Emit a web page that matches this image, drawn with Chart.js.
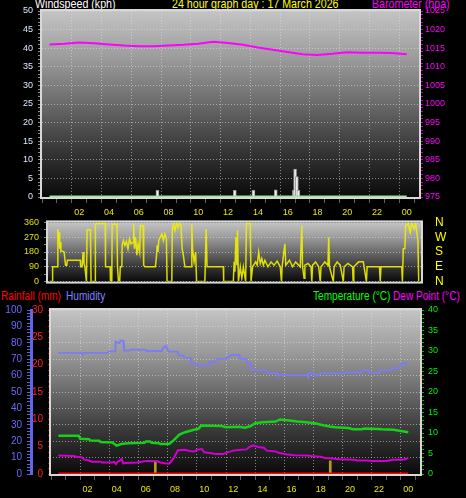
<!DOCTYPE html>
<html>
<head>
<meta charset="utf-8">
<script src="https://cdn.jsdelivr.net/npm/chart.js@4.4.1/dist/chart.umd.min.js"></script>
<style>
  body { margin: 0; background: #000; width: 466px; height: 498px; overflow: hidden; position: relative;
         font-family: 'Liberation Sans', Arial, sans-serif; }
  canvas { position: absolute; left: 0; }
  .t { position: absolute; white-space: nowrap; transform: scaleX(0.82); transform-origin: left top; }
  .head { font-size: 13px; line-height: 13px; top: -3px; }
  .leg { font-size: 12px; line-height: 12px; top: 290px; transform: scaleX(0.84); }
</style>
</head>
<body>
<div class="t head" style="left:35px;color:#fff">Windspeed (kph)</div>
<div class="t head" style="left:172px;color:#ffff00">24 hour graph day : 17 March 2026</div>
<div class="t head" style="left:372px;color:#ff00ff">Barometer (hpa)</div>
<div class="t leg" style="left:1px;color:#ff0000">Rainfall (mm)</div>
<div class="t leg" style="left:66px;color:#8080ff">Humidity</div>
<div class="t leg" style="left:313px;color:#00ff00">Temperature (°C)</div>
<div class="t leg" style="left:393px;color:#ff00ff">Dew Point (°C)</div>

<canvas id="wind-chart" style="top:0" width="466" height="222"></canvas>
<canvas id="dir-chart" style="top:212px" width="466" height="80"></canvas>
<canvas id="temp-chart" style="top:299px" width="466" height="199"></canvas>

<script>
// --- hour axis ---
const hourTicks = [2, 4, 6, 8, 10, 12, 14, 16, 18, 20, 22, 24];
const hourLabels = ['02', '04', '06', '08', '10', '12', '14', '16', '18', '20', '22', '00'];

// --- top panel: wind + barometer ---
const windTicks = [0, 5, 10, 15, 20, 25, 30, 35, 40, 45, 50];
const pressTicks = [975, 980, 985, 990, 995, 1000, 1005, 1010, 1015, 1020, 1025];

const pressHours = [0, 1, 2, 3, 4, 5, 6, 7, 8, 9, 10, 11, 12, 13, 14, 15, 16, 17, 18, 19, 20, 21, 22, 23, 24];
const pressValues = [1016.0, 1016.2, 1016.5, 1016.3, 1016.0, 1015.7, 1015.5, 1015.5, 1015.7, 1015.9, 1016.2, 1016.7,
  1016.4, 1015.9, 1015.2, 1014.6, 1014.0, 1013.4, 1013.2, 1013.5, 1013.9, 1013.8, 1013.8, 1013.7, 1013.4];

const windHours = [0, 24];
const windValues = [0, 0];

const gustHours = [7.25, 12.45, 13.7, 15.2, 16.42, 16.5, 16.62, 16.72];
const gustValues = [1.8, 1.8, 1.8, 1.9, 1.8, 7.5, 5.5, 1.8];

// --- middle panel: wind direction ---
const dirTicks = [0, 90, 180, 270, 360];
const compassLabels = ['N', 'E', 'S', 'W', 'N'];

const dirHours = [0, 0.17, 0.2, 0.5, 0.54, 0.58, 0.62, 0.66, 0.7, 0.74, 0.85, 0.95, 1.04, 1.12, 1.16, 2, 2.02, 2.12,
  2.18, 2.24, 2.3, 2.4, 2.44, 2.66, 2.7, 2.96, 2.98, 3.62, 3.64, 3.94, 3.96, 4.05, 4.07, 4.38, 4.42, 4.48, 4.56, 4.6,
  4.7, 4.72, 4.8, 4.9, 5, 5.1, 5.2, 5.3, 5.45, 5.47, 5.52, 5.6, 5.68, 5.76, 5.86, 5.9, 6.08, 6.12, 6.2, 6.88, 6.95,
  7, 7.05, 7.1, 7.2, 7.3, 7.4, 7.5, 7.6, 7.64, 7.95, 7.98, 8.05, 8.15, 8.25, 8.35, 8.45, 8.55, 8.62, 8.7, 8.8, 9.2,
  9.25, 9.3, 9.4, 9.5, 9.56, 10.1, 10.18, 10.24, 11.3, 11.32, 11.95, 12, 12.05, 12.12, 12.18, 12.22, 12.28, 12.4,
  12.5, 12.6, 12.75, 12.8, 13.05, 13.1, 13.2, 13.4, 13.5, 13.6, 13.7, 13.8, 13.9, 14, 14.2, 14.4, 14.6, 14.8, 15,
  15.08, 15.12, 15.3, 15.36, 15.6, 15.8, 16, 16.3, 16.4, 16.45, 16.55, 16.6, 16.8, 17, 17.05, 17.1, 17.3, 17.5, 17.6,
  17.65, 17.9, 18.1, 18.15, 18.2, 18.45, 18.5, 18.7, 18.9, 19.1, 19.15, 19.4, 19.7, 19.74, 19.78, 20.1, 20.4, 20.45,
  20.6, 20.65, 21.45, 21.5, 21.55, 22.9, 22.94, 23, 23.1, 23.15, 23.3, 23.45, 23.55, 23.7, 23.8, 23.95, 24];
const dirValues = [0, 0, 90, 90, 320, 260, 300, 200, 240, 185, 185, 180, 100, 100, 130, 130, 90, 90,
  180, 110, 90, 0, 315, 315, 0, 0, 352, 355, 90, 90, 0, 0, 348, 348, 90, 0, 0, 90,
  90, 220, 250, 220, 245, 200, 260, 230, 240, 350, 200, 270, 160, 230, 180, 340, 340, 100, 90, 90, 150,
  220, 180, 250, 270, 290, 250, 290, 260, 0, 0, 320, 350, 310, 355, 330, 355, 340, 200, 160, 90, 90,
  350, 200, 120, 180, 0, 0, 320, 90, 90, 0, 0, 120, 60, 270, 100, 310, 0, 90,
  20, 90, 0, 355, 355, 0, 90, 120, 100, 180, 110, 140, 100, 130, 90, 120, 100, 125, 90,
  0, 90, 230, 100, 130, 90, 120, 90, 340, 90, 20, 100, 110, 90, 0, 100, 120, 90, 0,
  90, 120, 100, 270, 90, 0, 90, 120, 100, 0, 90, 110, 90, 0, 90, 120, 120, 90,
  0, 90, 90, 0, 90, 90, 0, 200, 200, 340, 355, 300, 355, 320, 355, 250, 0];

// --- bottom panel: rain, humidity, temperature, dew point ---
const humTicks = [0, 10, 20, 30, 40, 50, 60, 70, 80, 90, 100];
const rainTicks = [0, 5, 10, 15, 20, 25, 30];
const tempTicks = [0, 5, 10, 15, 20, 25, 30, 35, 40];

const humHours = [0, 1.6, 1.65, 1.75, 3.4, 3.45, 3.9, 3.92, 4.2, 4.25, 4.45, 4.5, 4.9, 4.95, 5.5, 5.6, 5.7, 6, 6.05,
  7.1, 7.2, 7.4, 7.55, 8.2, 8.25, 8.6, 8.65, 9.1, 9.15, 9.5, 9.55, 10.3, 10.35, 10.8, 10.85, 11.5, 11.55, 11.75, 11.8,
  12.4, 12.45, 12.9, 12.95, 13.2, 13.25, 14.3, 14.35, 15, 15.05, 17.1, 17.15, 17.2, 17.5, 17.55, 17.9, 17.95, 19.7,
  19.75, 20.8, 20.85, 21.3, 21.35, 22, 22.05, 22.8, 22.85, 23.4, 23.5, 23.7, 24];
const humValues = [73.8, 73.8, 72.6, 73.8, 73.8, 74.8, 74.8, 80.7, 79.7, 81.3, 81.3, 75.2, 75.2, 75.8, 75.8, 75.2, 75.8, 75.8, 75,
  75, 77.2, 78, 74.6, 74.6, 72.2, 72.2, 70.6, 70.6, 67.3, 67.3, 66.1, 66.1, 68.2, 68.2, 70.2, 70.2, 71.4, 71.4, 72.6,
  72.6, 70.2, 70.2, 67.5, 67.5, 63.3, 63.3, 61.5, 61.5, 60.3, 60.3, 59, 61.5, 61.5, 60.2, 60.2, 61.3, 61.3,
  61.9, 61.9, 63.2, 63.2, 61.7, 61.7, 63.2, 63.2, 64.4, 64.4, 67, 67.8, 67.8];

const tempHours = [0, 1.4, 1.5, 2.1, 2.2, 2.8, 2.9, 3.7, 4, 4.3, 4.8, 5.9, 6, 6.3, 6.4, 6.9, 7, 7.6, 7.9, 8.3, 8.7,
  9.3, 9.6, 9.8, 11.2, 11.5, 12.4, 12.8, 13.2, 13.5, 14, 14.9, 15.2, 15.5, 16, 16.4, 17, 17.7, 18, 18.6, 19, 19.9,
  20.2, 20.8, 21, 21.9, 22.2, 23, 23.5, 24];
const tempValues = [9.3, 9.3, 8.6, 8.5, 8.2, 8.1, 7.8, 7.7, 6.9, 7.3, 7.5, 7.6, 7.9, 7.9, 7.6, 7.5, 7.3, 7.3, 8.2, 9.6, 10.2,
  10.8, 11, 11.8, 11.7, 11.4, 11.5, 11.3, 11.7, 12.4, 12.6, 12.8, 13.3, 13.2, 13, 12.8, 12.6, 12.3, 12, 11.6, 11.4, 11.2,
  10.9, 10.9, 11.1, 11, 10.9, 10.8, 10.5, 10.2];

const dewHours = [0, 1.1, 1.2, 1.6, 1.8, 2.1, 2.3, 2.9, 3, 3.7, 3.8, 3.95, 4.05, 4.2, 4.35, 4.45, 4.6, 5.4, 5.6, 6.1,
  6.8, 7, 7.3, 7.6, 7.9, 8.2, 8.7, 9, 9.3, 9.6, 9.85, 10, 10.4, 10.8, 11.3, 11.7, 12, 12.5, 12.9, 13.1, 13.4, 13.7,
  14.1, 14.3, 14.9, 15.1, 15.6, 16.2, 17.1, 17.5, 18, 18.3, 18.8, 19.3, 20.3, 20.5, 21.2, 21.5, 22.5, 22.9, 23.5,
  23.8, 24];
const dewValues = [4.5, 4.4, 4.2, 4.1, 3.5, 3.3, 3, 3, 2.8, 2.8, 3, 2.4, 3, 3.2, 3.7, 2.6, 2.7, 2.8, 2.9, 3.2,
  3.1, 2.8, 2.6, 2.5, 3.8, 5.8, 5.9, 5.6, 5.5, 6, 6.1, 5.3, 5.1, 4.9, 4.9, 5.4, 5.7, 5.9, 6, 6.6, 7, 6.6,
  6.4, 5.7, 5.5, 5.2, 4.8, 4.6, 4.5, 4.3, 4.2, 3.9, 3.8, 3.6, 3.5, 3.3, 3.3, 3.2, 3.2, 3.5, 3.5,
  3.6, 4];

const rainHours = [0, 24];
const rainValues = [0, 0];

// sunrise / sunset markers
const sunHours = [6.65, 18.65];
const sunValues = [3.2, 3.2];

const FONT = "'Liberation Sans', Arial, sans-serif";
const GRID = 'rgba(225, 225, 225, 0.55)';

function range(a, b, step) {
  const out = [];
  for (let v = a; v <= b + 1e-9; v += step) out.push(Math.round(v * 1000) / 1000);
  return out;
}

function pts(xs, ys) {
  return xs.map((x, i) => ({ x, y: ys[i] }));
}

// axis with explicit major (labelled) and minor (tick mark only) ticks
function ruledAxis(o) {
  const majors = o.major;
  const all = o.minorStep ? range(o.min, o.max, o.minorStep) : majors;
  return {
    type: 'linear',
    position: o.position,
    min: o.min,
    max: o.max,
    weight: o.weight || 0,
    afterBuildTicks: (s) => { s.ticks = all.map((v) => ({ value: v })); },
    afterFit: (s) => {
      if (o.width !== undefined) s.width = o.width;
      if (o.height !== undefined) s.height = o.height;
    },
    ticks: {
      autoSkip: false,
      maxRotation: 0,
      color: o.color,
      padding: o.padding,
      font: { family: FONT, size: o.fontSize || 9 },
      callback: (v) => {
        const i = majors.indexOf(v);
        if (i < 0) return '';
        return o.labels ? o.labels[i] : String(v);
      }
    },
    grid: {
      drawOnChartArea: !!o.gridOn,
      drawTicks: o.tickLength > 0,
      color: (c) => (c.tick && majors.includes(c.tick.value) ? GRID : 'transparent'),
      tickColor: o.tickColor || 'transparent',
      tickLength: o.tickLength
    },
    border: {
      display: !!o.borderColor,
      color: o.borderColor,
      width: o.borderWidth || 1,
      dash: (c) => (c.type === 'tick' ? [1, 2] : [])
    }
  };
}

const framePlugin = {
  id: 'frame',
  beforeDraw(chart, args, opts) {
    const { ctx, chartArea: a } = chart;
    const g = ctx.createLinearGradient(0, a.top, 0, a.bottom);
    opts.stops.forEach((s) => g.addColorStop(s[0], s[1]));
    ctx.save();
    ctx.fillStyle = g;
    ctx.fillRect(a.left, a.top, a.right - a.left, a.bottom - a.top);
    ctx.restore();
  },
  beforeDatasetsDraw(chart) {
    const { ctx, chartArea: a } = chart;
    ctx.save();
    ctx.strokeStyle = '#d8d8d8';
    ctx.lineWidth = 2;
    ctx.strokeRect(a.left - 1, a.top - 1, a.right - a.left + 2, a.bottom - a.top + 2);
    ctx.restore();
  }
};

const bgStops = [[0, '#c4c4c4'], [0.25, '#9c9c9c'], [0.5, '#6a6a6a'], [0.75, '#363636'], [1, '#0a0a0a']];

const baseOptions = {
  responsive: false,
  animation: false,
  events: [],
  plugins: { legend: { display: false }, tooltip: { enabled: false }, frame: { stops: bgStops } }
};

function lineSet(label, xs, ys, color, width, axis) {
  return {
    type: 'line', label, data: pts(xs, ys), yAxisID: axis,
    borderColor: color, borderWidth: width, pointRadius: 0, tension: 0, fill: false
  };
}

// ---------- top: windspeed / barometer ----------
new Chart(document.getElementById('wind-chart'), {
  type: 'line',
  data: {
    datasets: [
      lineSet('Barometer', pressHours, pressValues, '#ff00ff', 2, 'yP'),
      lineSet('Windspeed', windHours, windValues, '#98e898', 3, 'y'),
      {
        type: 'bar', label: 'Gust', data: pts(gustHours, gustValues), yAxisID: 'y',
        backgroundColor: '#f0f0f0', borderColor: '#9a9a9a', borderWidth: 1, barThickness: 3
      }
    ]
  },
  options: {
    ...baseOptions,
    layout: { padding: { top: 11 } },
    scales: {
      x: ruledAxis({
        position: 'bottom', min: 0, max: 24.32, major: hourTicks, labels: hourLabels, minorStep: 1,
        color: '#e8e800', padding: 4, tickLength: 6, tickColor: '#606060', gridOn: true, height: 25
      }),
      y: ruledAxis({
        position: 'left', min: 0, max: 50, major: windTicks, minorStep: 1,
        color: '#dde8ff', padding: 5, tickLength: 4, tickColor: '#8a8a8a', gridOn: true, width: 42
      }),
      yP: ruledAxis({
        position: 'right', min: 975, max: 1025, major: pressTicks, minorStep: 1,
        color: '#ff00ff', padding: 2, tickLength: 4, tickColor: '#c000c0', width: 47
      })
    }
  },
  plugins: [framePlugin]
});

// ---------- middle: wind direction ----------
new Chart(document.getElementById('dir-chart'), {
  type: 'line',
  data: {
    datasets: [lineSet('Wind direction', dirHours, dirValues, 'rgba(240, 240, 0, 0.9)', 1.5, 'y')]
  },
  options: {
    ...baseOptions,
    layout: { padding: 0 },
    scales: {
      x: { type: 'linear', min: -0.1, max: 24.15, display: false },
      y: ruledAxis({
        position: 'left', min: 0, max: 360, major: dirTicks, minorStep: 45,
        color: '#e0e000', padding: 5, tickLength: 4, tickColor: '#8a8a8a', gridOn: true, width: 48
      }),
      yC: ruledAxis({
        position: 'right', min: 0, max: 360, major: dirTicks, labels: compassLabels,
        color: '#ffff00', padding: 2, tickLength: 12, fontSize: 12, width: 45
      })
    }
  },
  plugins: [framePlugin]
});

// ---------- bottom: rain / humidity / temperature / dew point ----------
new Chart(document.getElementById('temp-chart'), {
  type: 'line',
  data: {
    datasets: [
      lineSet('Humidity', humHours, humValues, '#7c7cf4', 1.8, 'yH'),
      lineSet('Temperature', tempHours, tempValues, '#18d018', 2.5, 'yT'),
      lineSet('Dew Point', dewHours, dewValues, '#d000d0', 2, 'yT'),
      lineSet('Rainfall', rainHours, rainValues, '#ff0000', 3, 'yR'),
      {
        type: 'bar', label: 'Sun', data: pts(sunHours, sunValues), yAxisID: 'yT',
        backgroundColor: '#b89a20', barThickness: 2
      }
    ]
  },
  options: {
    ...baseOptions,
    layout: { padding: { top: 11 } },
    scales: {
      x: ruledAxis({
        position: 'bottom', min: 0, max: 24.3, major: hourTicks, labels: hourLabels, minorStep: 1,
        color: '#e8e800', padding: 4, tickLength: 6, tickColor: '#606060', gridOn: true, height: 24
      }),
      yH: ruledAxis({
        position: 'left', min: 0, max: 100, major: humTicks, minorStep: 2, weight: 1,
        color: '#6a6aff', padding: 5, tickLength: 4, tickColor: '#6060e0', gridOn: true, width: 31,
        borderColor: '#6464e6', borderWidth: 3, fontSize: 10
      }),
      yR: ruledAxis({
        position: 'left', min: 0, max: 30, major: rainTicks, minorStep: 1, weight: 0,
        color: '#ff2020', padding: 5, tickLength: 3, tickColor: '#d00000', width: 20, fontSize: 10
      }),
      yT: ruledAxis({
        position: 'right', min: 0, max: 40, major: tempTicks, minorStep: 1,
        color: '#00f000', padding: 4, tickLength: 4, tickColor: '#00c000', width: 46
      })
    }
  },
  plugins: [framePlugin]
});
</script>
</body>
</html>
